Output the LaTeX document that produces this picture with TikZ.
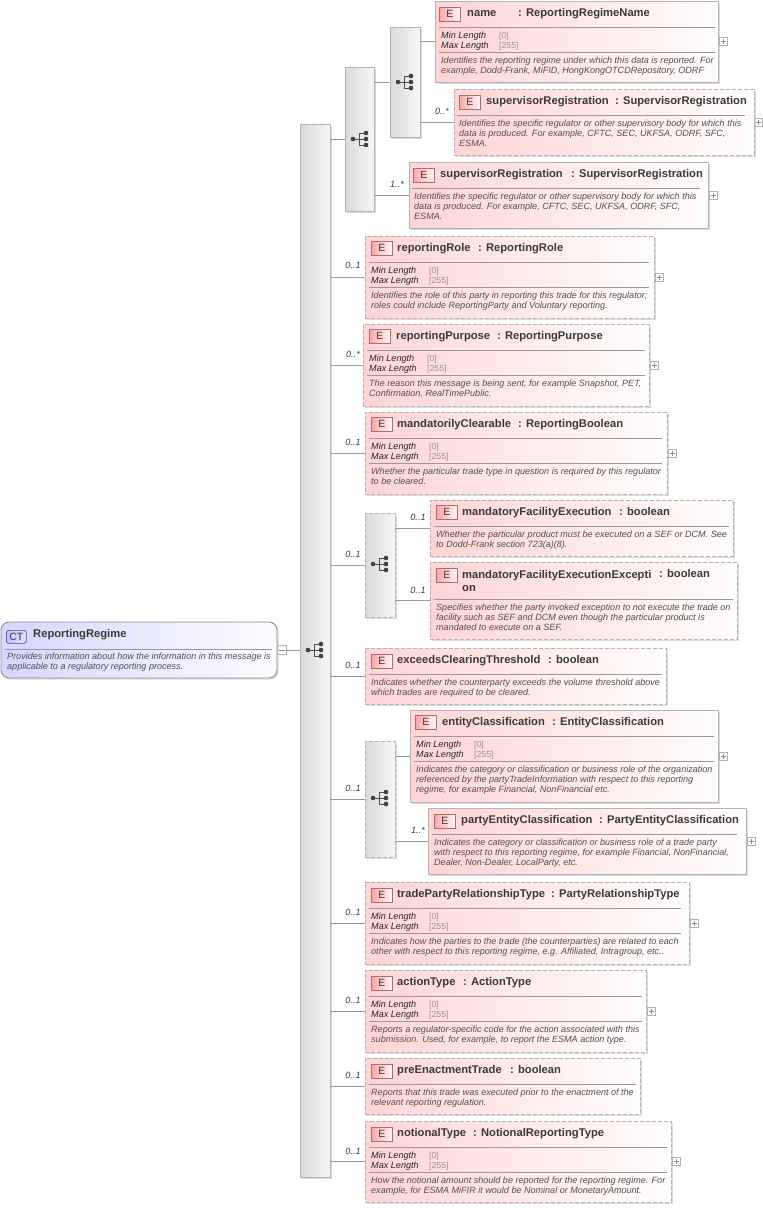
\documentclass[tikz,border=0pt]{standalone}
\usepackage{fontspec}
\setmainfont{Liberation Sans}
\usetikzlibrary{positioning,shadows}
\definecolor{elemleft}{HTML}{FFD4D4}
\definecolor{elemright}{HTML}{FFFDFD}
\definecolor{ctleft}{HTML}{D6D6FF}
\definecolor{ctright}{HTML}{FCFCFF}
\definecolor{boxline}{HTML}{B4B4B4}
\definecolor{txtdark}{HTML}{3A3A3A}
\definecolor{txtdesc}{HTML}{505050}
\tikzset{
  softshadow/.style={drop shadow={shadow xshift=1.6pt,shadow yshift=-1.6pt,fill=black,opacity=.14}},
  elem/.style={rectangle,anchor=north west,inner sep=0pt,outer sep=0pt,draw=boxline,line width=1pt,
    left color=elemleft,right color=elemright,softshadow},
  elemopt/.style={elem,dash pattern=on 4pt off 2pt},
  seqbox/.style={rectangle,anchor=north west,inner sep=0pt,outer sep=0pt,draw=boxline,line width=.9pt,
    left color=black!15,right color=black!3,softshadow},
  seqopt/.style={seqbox,dash pattern=on 4pt off 2pt},
  badge/.style={rectangle,anchor=north west,inner sep=0pt,minimum width=21,minimum height=14,draw=red!30!black!55,
    line width=.7pt,left color=red!35,right color=red!3,text=txtdark,font=\fontsize{10.5}{12}\selectfont},
  elemtitle/.style={anchor=mid west,inner sep=0pt,yshift=-.8pt,text=txtdark,font=\fontsize{11.2}{12.4}\selectfont\bfseries,align=left},
  facet/.style={anchor=mid west,inner sep=0pt,yshift=-1pt,text=black!85,font=\fontsize{9.1}{10}\selectfont\itshape},
  facetval/.style={anchor=mid west,inner sep=0pt,yshift=-1pt,text=black!42,font=\fontsize{8.7}{10}\selectfont},
  desc/.style={anchor=north west,inner sep=0pt,yshift=-3pt,text=txtdesc,align=left,font=\fontsize{9.05}{10.1}\selectfont\itshape},
  occ/.style={inner sep=0pt,text=txtdark,font=\fontsize{9.1}{10}\selectfont\itshape},
  wire/.style={draw=black!40,line width=.8pt},
  sepline/.style={draw=black!40,line width=.8pt},
  plusbox/.style={rectangle,inner sep=0pt,outer sep=0pt,minimum size=8,draw=black!30,line width=.6pt,
    path picture={\draw[black!45,line width=.6pt] ([xshift=1.5]path picture bounding box.west)--([xshift=-1.5]path picture bounding box.east);
      \draw[black!45,line width=.6pt] ([yshift=1.5]path picture bounding box.south)--([yshift=-1.5]path picture bounding box.north);}},
  minusbox/.style={rectangle,inner sep=0pt,outer sep=0pt,minimum size=9,draw=black!30,line width=.6pt,
    path picture={\draw[black!45,line width=.6pt] ([xshift=1.5]path picture bounding box.west)--([xshift=-1.5]path picture bounding box.east);}},
  seqicon/.pic={
    \draw[black!70,line width=1pt] (-7,0)--(-1,0) (-1,-6)--(-1,6) (-1,-6)--(6,-6) (-1,0)--(6,0) (-1,6)--(6,6);
    \fill[black!75] (-7,0) circle (2.3) (6,-6) circle (2.3) (6,0) circle (2.3) (6,6) circle (2.3);
  },
}
\begin{document}
\begin{tikzpicture}[x=1pt,y=-1pt]
  \useasboundingbox (0,0) rectangle (763,1208);
  % sequence boxes
  \node[seqbox,minimum width=30,minimum height=1053] (seqmain) at (300,124) {};
  \node[seqbox,minimum width=29,minimum height=144] (seqouter) at (345,67) {};
  \node[seqbox,minimum width=30,minimum height=110] (seqinner) at (390,27) {};
  \node[seqopt,minimum width=30,minimum height=104] (seqfacility) at (365,513) {};
  \node[seqopt,minimum width=30,minimum height=116] (seqentity) at (365,741) {};
  \pic at (315,650) {seqicon}; \pic at (360,139) {seqicon}; \pic at (405,82) {seqicon};
  \pic at (380,564) {seqicon}; \pic at (380,798) {seqicon};
  % root type
  \node[rectangle,anchor=north west,inner sep=0pt,outer sep=0pt,draw=black!45,line width=.9pt,rounded corners=8,
    left color=ctleft,right color=ctright,softshadow,minimum width=276,minimum height=56] (regime) at (1,622) {};
  \node[badge,rounded corners=2.5,minimum width=20,minimum height=13,draw=blue!40!black!70,left color=blue!25,right color=blue!12] (regimebadge) at (6,630) {CT};
  \node[elemtitle] (regimetitle) at (33,634) {ReportingRegime};
  \draw[sepline] (5,649)--(272,649);
  \node[desc] (regimedesc) at (7,650) {Provides information about how the information in this message is\\applicable to a regulatory reporting process.};
  \node[minusbox,right=0pt of regime] (regimeminus) {};
  % name
  \node[elem,minimum width=283,minimum height=81] (nameel) at (435,1) {};
  \node[badge] (namebadge) at (439,7) {E};
  \node[elemtitle] (nametitle) at (467,13) {name}; \node[elemtitle] (nametype) at (518,13) {: ReportingRegimeName};
  \draw[sepline] (439,27)--(715,27); \draw[sepline] (439,52)--(715,52);
  \node[facet] (namemin) at (441,35) {Min Length}; \node[facetval] (nameminv) at (499,35) {[0]};
  \node[facet] (namemax) at (441,45) {Max Length}; \node[facetval] (namemaxv) at (499,45) {[255]};
  \node[desc] (namedesc) at (441,54) {Identifies the reporting regime under which this data is reported. For\\example, Dodd-Frank, MiFID, HongKongOTCDRepository, ODRF};
  \node[plusbox,right=1pt of nameel] (nameplus) {};
  % supervisorRegistration, in the choice
  \node[elemopt,minimum width=300,minimum height=66] (supera) at (454,89) {};
  \node[badge] (superabadge) at (459,95) {E};
  \node[elemtitle] (superatitle) at (486,101) {supervisorRegistration}; \node[elemtitle] (superatype) at (615,101) {: SupervisorRegistration};
  \draw[sepline] (457,115)--(745,115);
  \node[desc] (superadesc) at (459,117) {Identifies the specific regulator or other supervisory body for which this\\data is produced. For example, CFTC, SEC, UKFSA, ODRF, SFC,\\ESMA.};
  \node[plusbox,right=0pt of supera] (superaplus) {};
  % supervisorRegistration
  \node[elem,minimum width=299,minimum height=66] (superb) at (409,162) {};
  \node[badge] (superbbadge) at (413,168) {E};
  \node[elemtitle] (superbtitle) at (440,174) {supervisorRegistration}; \node[elemtitle] (superbtype) at (571,174) {: SupervisorRegistration};
  \draw[sepline] (412,188)--(700,188);
  \node[desc] (superbdesc) at (414,190) {Identifies the specific regulator or other supervisory body for which this\\data is produced. For example, CFTC, SEC, UKFSA, ODRF, SFC,\\ESMA.};
  \node[plusbox,right=1pt of superb] (superbplus) {};
  % reportingRole
  \node[elemopt,minimum width=289,minimum height=82] (role) at (365,236) {};
  \node[badge] (rolebadge) at (371,241) {E};
  \node[elemtitle] (roletitle) at (397,248) {reportingRole}; \node[elemtitle] (roletype) at (478,248) {: ReportingRole};
  \draw[sepline] (369,262)--(649,262); \draw[sepline] (369,287)--(649,287);
  \node[facet] (rolemin) at (371,270) {Min Length}; \node[facetval] (roleminv) at (429,270) {[0]};
  \node[facet] (rolemax) at (371,280) {Max Length}; \node[facetval] (rolemaxv) at (429,280) {[255]};
  \node[desc] (roledesc) at (371,289) {Identifies the role of this party in reporting this trade for this regulator;\\roles could include ReportingParty and Voluntary reporting.};
  \node[plusbox,right=1pt of role] (roleplus) {};
  % reportingPurpose
  \node[elemopt,minimum width=286,minimum height=82] (purpose) at (363,324) {};
  \node[badge] (purposebadge) at (369,329) {E};
  \node[elemtitle] (purposetitle) at (396,336) {reportingPurpose}; \node[elemtitle] (purposetype) at (497,336) {: ReportingPurpose};
  \draw[sepline] (367,350)--(645,350); \draw[sepline] (367,375)--(645,375);
  \node[facet] (purposemin) at (369,358) {Min Length}; \node[facetval] (purposeminv) at (427,358) {[0]};
  \node[facet] (purposemax) at (369,368) {Max Length}; \node[facetval] (purposemaxv) at (427,368) {[255]};
  \node[desc] (purposedesc) at (369,377) {The reason this message is being sent, for example Snapshot, PET,\\Confirmation, RealTimePublic.};
  \node[plusbox,right=1pt of purpose] (purposeplus) {};
  % mandatorilyClearable
  \node[elemopt,minimum width=302,minimum height=82] (clearable) at (365,412) {};
  \node[badge] (clearablebadge) at (371,417) {E};
  \node[elemtitle] (clearabletitle) at (397,424) {mandatorilyClearable}; \node[elemtitle] (clearabletype) at (518,424) {: ReportingBoolean};
  \draw[sepline] (369,438)--(662,438); \draw[sepline] (369,463)--(662,463);
  \node[facet] (clearablemin) at (371,446) {Min Length}; \node[facetval] (clearableminv) at (429,446) {[0]};
  \node[facet] (clearablemax) at (371,456) {Max Length}; \node[facetval] (clearablemaxv) at (429,456) {[255]};
  \node[desc] (clearabledesc) at (371,465) {Whether the particular trade type in question is required by this regulator\\to be cleared.};
  \node[plusbox,right=1pt of clearable] (clearableplus) {};
  % mandatoryFacilityExecution
  \node[elemopt,minimum width=303,minimum height=56] (facility) at (430,500) {};
  \node[badge] (facilitybadge) at (436,505) {E};
  \node[elemtitle] (facilitytitle) at (462,512) {mandatoryFacilityExecution}; \node[elemtitle] (facilitytype) at (619,512) {: boolean};
  \draw[sepline] (434,526)--(729,526);
  \node[desc] (facilitydesc) at (436,528) {Whether the particular product must be executed on a SEF or DCM. See\\to Dodd-Frank section 723(a)(8).};
  % mandatoryFacilityExecutionException
  \node[elemopt,minimum width=307,minimum height=77] (exception) at (430,562) {};
  \node[badge] (exceptionbadge) at (436,568) {E};
  \node[elemtitle,anchor=north west,yshift=-1.5pt] (exceptiontitle) at (462,568) {mandatoryFacilityExecutionExcepti\\on}; \node[elemtitle] (exceptiontype) at (659,574) {: boolean};
  \draw[sepline] (434,599)--(733,599);
  \node[desc] (exceptiondesc) at (436,601) {Specifies whether the party invoked exception to not execute the trade on\\facility such as SEF and DCM even though the particular product is\\mandated to execute on a SEF.};
  % exceedsClearingThreshold
  \node[elemopt,minimum width=301,minimum height=56] (exceeds) at (365,648) {};
  \node[badge] (exceedsbadge) at (371,654) {E};
  \node[elemtitle] (exceedstitle) at (397,660) {exceedsClearingThreshold}; \node[elemtitle] (exceedstype) at (548,660) {: boolean};
  \draw[sepline] (369,674)--(662,674);
  \node[desc] (exceedsdesc) at (371,676) {Indicates whether the counterparty exceeds the volume threshold above\\which trades are required to be cleared.};
  % entityClassification
  \node[elem,minimum width=308,minimum height=92] (entity) at (410,710) {};
  \node[badge] (entitybadge) at (415,715) {E};
  \node[elemtitle] (entitytitle) at (442,722) {entityClassification}; \node[elemtitle] (entitytype) at (552,722) {: EntityClassification};
  \draw[sepline] (414,736)--(714,736); \draw[sepline] (414,761.5)--(714,761.5);
  \node[facet] (entitymin) at (416,744) {Min Length}; \node[facetval] (entityminv) at (474,744) {[0]};
  \node[facet] (entitymax) at (416,754) {Max Length}; \node[facetval] (entitymaxv) at (474,754) {[255]};
  \node[desc] (entitydesc) at (416,763) {Indicates the category or classification or business role of the organization\\referenced by the partyTradeInformation with respect to this reporting\\regime, for example Financial, NonFinancial etc.};
  \node[plusbox,right=1pt of entity] (entityplus) {};
  % partyEntityClassification
  \node[elem,minimum width=318,minimum height=66] (party) at (428,808) {};
  \node[badge] (partybadge) at (434,814) {E};
  \node[elemtitle] (partytitle) at (461,820) {partyEntityClassification}; \node[elemtitle] (partytype) at (599,820) {: PartyEntityClassification};
  \draw[sepline] (432,834)--(737,834);
  \node[desc] (partydesc) at (434,836) {Indicates the category or classification or business role of a trade party\\with respect to this reporting regime, for example Financial, NonFinancial,\\Dealer, Non-Dealer, LocalParty, etc.};
  \node[plusbox,right=1pt of party] (partyplus) {};
  % tradePartyRelationshipType
  \node[elemopt,minimum width=324,minimum height=82] (trade) at (365,882) {};
  \node[badge] (tradebadge) at (371,888) {E};
  \node[elemtitle] (tradetitle) at (397,894) {tradePartyRelationshipType}; \node[elemtitle] (tradetype) at (551,894) {: PartyRelationshipType};
  \draw[sepline] (369,908)--(681,908); \draw[sepline] (369,933)--(681,933);
  \node[facet] (trademin) at (371,916) {Min Length}; \node[facetval] (trademinv) at (429,916) {[0]};
  \node[facet] (trademax) at (371,926) {Max Length}; \node[facetval] (trademaxv) at (429,926) {[255]};
  \node[desc] (tradedesc) at (371,935) {Indicates how the parties to the trade (the counterparties) are related to each\\other with respect to this reporting regime, e.g. Affiliated, Intragroup, etc..};
  \node[plusbox,right=1pt of trade] (tradeplus) {};
  % actionType
  \node[elemopt,minimum width=281,minimum height=82] (action) at (365,970) {};
  \node[badge] (actionbadge) at (371,976) {E};
  \node[elemtitle] (actiontitle) at (397,982) {actionType}; \node[elemtitle] (actiontype) at (463,982) {: ActionType};
  \draw[sepline] (369,996)--(642,996); \draw[sepline] (369,1021)--(642,1021);
  \node[facet] (actionmin) at (371,1004) {Min Length}; \node[facetval] (actionminv) at (429,1004) {[0]};
  \node[facet] (actionmax) at (371,1014) {Max Length}; \node[facetval] (actionmaxv) at (429,1014) {[255]};
  \node[desc] (actiondesc) at (371,1023) {Reports a regulator-specific code for the action associated with this\\submission. Used, for example, to report the ESMA action type.};
  \node[plusbox,right=1pt of action] (actionplus) {};
  % preEnactmentTrade
  \node[elemopt,minimum width=275,minimum height=56] (preenact) at (365,1058) {};
  \node[badge] (preenactbadge) at (371,1064) {E};
  \node[elemtitle] (preenacttitle) at (397,1070) {preEnactmentTrade}; \node[elemtitle] (preenacttype) at (510,1070) {: boolean};
  \draw[sepline] (369,1084)--(636,1084);
  \node[desc] (preenactdesc) at (371,1086) {Reports that this trade was executed prior to the enactment of the\\relevant reporting regulation.};
  % notionalType
  \node[elemopt,minimum width=306,minimum height=81] (notional) at (365,1121) {};
  \node[badge] (notionalbadge) at (371,1127) {E};
  \node[elemtitle] (notionaltitle) at (397,1133) {notionalType}; \node[elemtitle] (notionaltype) at (473,1133) {: NotionalReportingType};
  \draw[sepline] (369,1147)--(667,1147); \draw[sepline] (369,1172)--(667,1172);
  \node[facet] (notionalmin) at (371,1155) {Min Length}; \node[facetval] (notionalminv) at (429,1155) {[0]};
  \node[facet] (notionalmax) at (371,1165) {Max Length}; \node[facetval] (notionalmaxv) at (429,1165) {[255]};
  \node[desc] (notionaldesc) at (371,1174) {How the notional amount should be reported for the reporting regime. For\\example, for ESMA MiFIR it would be Nominal or MonetaryAmount.};
  \node[plusbox,right=1pt of notional] (notionalplus) {};
  % connectors
  \draw[wire] (regimeminus.east) -- (seqmain.west |- regimeminus.east);
  \draw[wire] (seqmain.east |- seqouter.west) -- (seqouter.west);
  \draw[wire] (seqouter.east |- seqinner.west) -- (seqinner.west);
  \draw[wire] (seqinner.east |- nameel.west) -- (nameel.west);
  \draw[wire] (seqinner.east |- supera.west) -- (supera.west);
  \draw[wire] (seqouter.east |- superb.west) -- (superb.west);
  \draw[wire] (seqmain.east |- role.west) -- (role.west);
  \draw[wire] (seqmain.east |- purpose.west) -- (purpose.west);
  \draw[wire] (seqmain.east |- clearable.west) -- (clearable.west);
  \draw[wire] (seqmain.east |- seqfacility.west) -- (seqfacility.west);
  \draw[wire] (seqfacility.east |- facility.west) -- (facility.west);
  \draw[wire] (seqfacility.east |- exception.west) -- (exception.west);
  \draw[wire] (seqmain.east |- exceeds.west) -- (exceeds.west);
  \draw[wire] (seqmain.east |- seqentity.west) -- (seqentity.west);
  \draw[wire] (seqentity.east |- entity.west) -- (entity.west);
  \draw[wire] (seqentity.east |- party.west) -- (party.west);
  \draw[wire] (seqmain.east |- trade.west) -- (trade.west);
  \draw[wire] (seqmain.east |- action.west) -- (action.west);
  \draw[wire] (seqmain.east |- preenact.west) -- (preenact.west);
  \draw[wire] (seqmain.east |- notional.west) -- (notional.west);
  % occurrences
  \node[occ] (occsupera) at (442,111) {0..*}; \node[occ] (occsuperb) at (397,184) {1..*};
  \node[occ] (occrole) at (353,265) {0..1}; \node[occ] (occpurpose) at (353,354) {0..*};
  \node[occ] (occclearable) at (353,442) {0..1}; \node[occ] (occseqfac) at (353,554) {0..1};
  \node[occ] (occfacility) at (418,517) {0..1}; \node[occ] (occexception) at (418,590) {0..1};
  \node[occ] (occexceeds) at (353,665) {0..1}; \node[occ] (occseqent) at (353,788) {0..1};
  \node[occ] (occparty) at (418,830) {1..*}; \node[occ] (occtrade) at (353,912) {0..1};
  \node[occ] (occaction) at (353,1000) {0..1}; \node[occ] (occpreenact) at (353,1075) {0..1};
  \node[occ] (occnotional) at (353,1151) {0..1};
\end{tikzpicture}
\end{document}
